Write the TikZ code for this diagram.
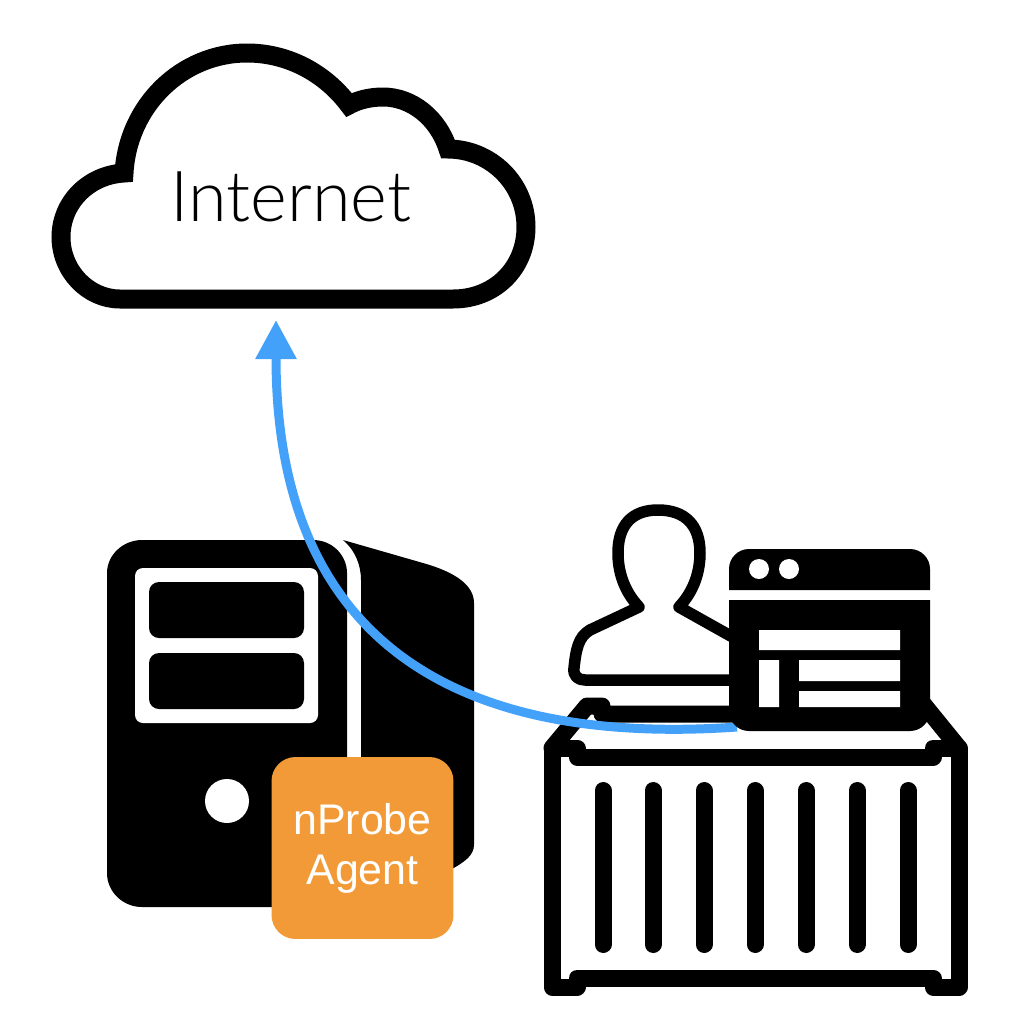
\documentclass[tikz,border=0pt]{standalone}
\usepackage{fontspec}
\usepackage{xcolor}
\usepackage{tikz}
\usetikzlibrary{arrows.meta}
\setmainfont{Liberation Sans}
\newfontfamily\thinfont{Lato Light}
\definecolor{agentorange}{HTML}{F29A38}
\definecolor{flowblue}{HTML}{44A1FA}

\begin{document}
\begin{tikzpicture}[x=0.02cm,y=-0.02cm,
    outline/.style={draw=black,line join=round,line cap=round},
    agent node/.style={fill=agentorange,text=white,rounded corners=0.48cm,minimum size=3.64cm,inner sep=0pt,align=center},
    flow/.style={draw=flowblue,line width=0.18cm,-{Triangle[length=0.78cm,width=0.78cm,flowblue]}}]
        \useasboundingbox (0,0) rectangle (1012,1036);
        % cloud
        \draw[line width=0.38cm,miter limit=10]
          (120,299) -- (453,299) .. controls (495,299) and (526,268) .. (526,227)
          .. controls (526,183) and (490,149) .. (448,149)
          .. controls (438,118) and (412,97) .. (383,97)
          .. controls (370,97) and (358,100) .. (349,105)
          .. controls (325,73) and (288,53) .. (247,53)
          .. controls (182,53) and (128,105) .. (124,173)
          .. controls (88,175) and (61,203) .. (61,237)
          .. controls (61,271) and (88,299) .. (120,299) -- cycle;
        \node[anchor=base,inner sep=0pt,font=\thinfont\fontsize{40}{48}\selectfont] (internet) at (291,221) {Internet};
        \coordinate (cloudtip) at (276,320);
        % server
        \fill (142,540) -- (313,540) .. controls (332,540) and (347,555) .. (347,573)
          -- (347,873) .. controls (347,892) and (332,907) .. (313,907) -- (142,907)
          .. controls (123,907) and (107,892) .. (107,873) -- (107,573)
          .. controls (107,555) and (123,540) .. (142,540) -- cycle;
        \fill (343,540) -- (423,563) .. controls (455,572) and (474,585) .. (474,603)
          -- (474,845) .. controls (474,855) and (465,862) .. (450,870) -- (361,870)
          -- (361,580) .. controls (361,565) and (355,550) .. (343,540) -- cycle;
        \fill[white,rounded corners=0.16cm] (135,568) rectangle (318,723);
        \fill[rounded corners=0.2cm] (149,582) rectangle (304,638);
        \fill[rounded corners=0.2cm] (149,653) rectangle (304,709);
        \fill[white] (227,801) circle (0.44cm);
        \node[agent node,font=\fontsize{24.4}{28.4}\selectfont] (agent) at (362.5,848) {nProbe\\Agent};
        % container
        \draw[outline,line width=0.34cm]
          (577,978) -- (933,978) -- (933,987) -- (959,987) -- (959,748) -- (933,748) -- (933,757)
          -- (577,757) -- (577,748) -- (552,748) -- (552,987) -- (577,987) -- cycle;
        \draw[outline,line width=0.34cm]
          (552,748) -- (587,706) -- (602,706) -- (602,714) -- (745,714);
        \draw[outline,line width=0.34cm] (959,748) -- (920,700);
        \foreach \x in {603,653,704,755,806,857,908}
          \draw[outline,line width=0.34cm] (\x,790.5) -- (\x,944.5);
        % person
        \draw[outline,line width=0.23cm]
          (745,644) -- (679,607) .. controls (695,590) and (700,570) .. (700,553)
          .. controls (700,525) and (685,510) .. (658,510)
          .. controls (632,510) and (618,525) .. (618,553)
          .. controls (618,570) and (623,590) .. (639,607)
          -- (590,630) .. controls (578,637) and (576,650) .. (574,668)
          .. controls (573,676) and (578,680) .. (585,680) -- (745,680);
        % flow
        \coordinate (browser) at (737,727);
        \path[flow] (browser) .. controls (480,745) and (276,660) .. (cloudtip);
        % browser window
        \fill (729,590) [rounded corners=0.4cm] -- (729,549) -- (930,549) [sharp corners] -- (930,590) -- cycle;
        \fill (729,600) [rounded corners=0.4cm] -- (729,731) -- (930,731) [sharp corners] -- (930,600) -- cycle;
        \fill[white] (759,569) circle (0.2cm) (789,569) circle (0.2cm);
        \fill[white] (759,630) rectangle (900,650) (759,660) rectangle (779,707)
          (799,660) rectangle (900,681) (799,691) rectangle (900,707);
      \end{tikzpicture}
\end{document}
